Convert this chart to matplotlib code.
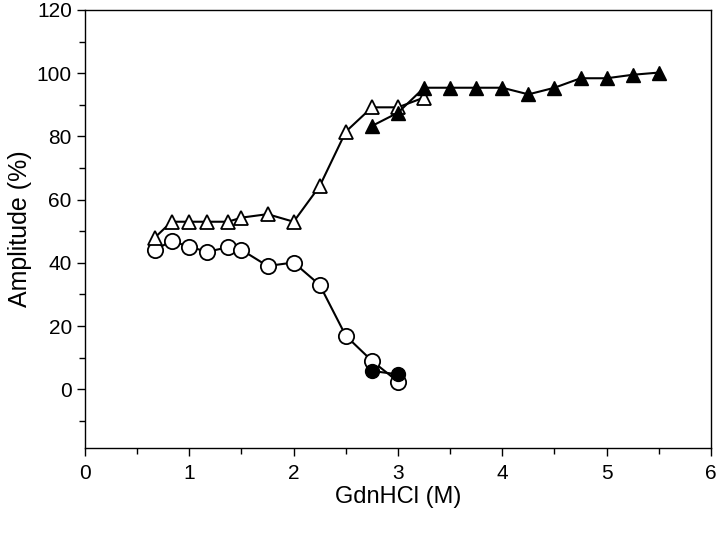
import numpy as np
import matplotlib.pyplot as plt
from matplotlib.ticker import MultipleLocator

plt.rcParams['font.family'] = ['Liberation Sans', 'DejaVu Sans']

# open triangles
tri_open_x = [0.67, 0.83, 1.0, 1.17, 1.37, 1.5, 1.75, 2.0, 2.25, 2.5, 2.75, 3.0, 3.25]
tri_open_y = [48, 53, 53, 53, 53, 54.3, 55.4, 53, 64.3, 81.5, 89.2, 89.2, 92.3]
# filled triangles
tri_fill_x = [2.75, 3.0, 3.25, 3.5, 3.75, 4.0, 4.25, 4.5, 4.75, 5.0, 5.25, 5.5]
tri_fill_y = [83.3, 87.5, 95.4, 95.4, 95.4, 95.4, 93.3, 95.4, 98.4, 98.4, 99.5, 100.2]
# open circles
circ_open_x = [0.67, 0.83, 1.0, 1.17, 1.37, 1.5, 1.75, 2.0, 2.25, 2.5, 2.75, 3.0]
circ_open_y = [44.1, 46.9, 45.1, 43.5, 44.9, 44.1, 39, 40.1, 33, 16.9, 9, 2.4]
# filled circles
circ_fill_x = [2.75, 3.0]
circ_fill_y = [5.8, 4.7]

fig = plt.figure(figsize=(7.2, 5.34), dpi=100)
ax = fig.add_axes([0.118, 0.1616, 0.8695, 0.8197])

lw = 1.5
ax.plot(circ_fill_x, circ_fill_y, '-o', color='black', mfc='black', ms=10, lw=lw, zorder=3)
ax.plot(circ_open_x, circ_open_y, '-o', color='black', mfc='white', ms=11, mew=1.3, lw=lw, zorder=2)
ax.plot(tri_open_x, tri_open_y, '-^', color='black', mfc='white', ms=10, mew=1.3, lw=lw, zorder=2)
ax.plot(tri_fill_x, tri_fill_y, '-^', color='black', mfc='black', ms=10, lw=lw, zorder=3)

ax.set_xlim(0, 6)
ax.set_ylim(-18.5, 120)
ax.set_yticks([0, 20, 40, 60, 80, 100, 120])
ax.xaxis.set_minor_locator(MultipleLocator(0.5))
ax.yaxis.set_minor_locator(MultipleLocator(10))
ax.tick_params(which='both', direction='out', labelsize=15, width=1)
ax.tick_params(which='major', length=6)
ax.tick_params(which='minor', length=4)
ax.tick_params(axis='x', pad=6)

for s in ax.spines.values():
    s.set_linewidth(1)

ax.set_xlabel('GdnHCl (M)', fontsize=17, labelpad=2)
ax.set_ylabel('Amplitude (%)', fontsize=18, labelpad=3)

fig.savefig('out.png', dpi=100)
